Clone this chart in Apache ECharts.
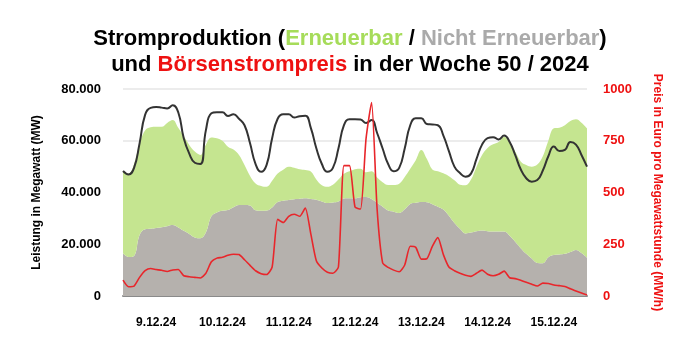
<!DOCTYPE html>
<html>
<head>
<meta charset="utf-8">
<script src="https://cdn.jsdelivr.net/npm/echarts@6/dist/echarts.min.js"></script>
<style>html,body{margin:0;padding:0;background:#fff}#c{width:700px;height:360px}</style>
</head>
<body>
<div id="c"></div>
<script>
// hours since 9.12.2024 00:00, 2-hour steps
const hours = [0,2,4,6,8,10,12,14,16,18,20,22,24,26,28,30,32,34,36,38,40,42,44,46,48,50,52,54,56,58,60,62,64,66,68,70,72,74,76,78,80,82,84,86,88,90,92,94,96,98,100,102,104,106,108,110,112,114,116,118,120,122,124,126,128,130,132,134,136,138,140,142,144,146,148,150,152,154,156,158,160,162,164,166,168];
const dayLabels = ["9.12.24","10.12.24","11.12.24","12.12.24","13.12.24","14.12.24","15.12.24"];
// MW
const nichtErneuerbar = [16500,15100,15500,23600,25800,26000,26300,26600,27000,27400,26500,25200,24000,22600,22300,24500,30800,32300,32900,33200,34300,35200,35200,35000,33100,32900,33000,34200,36300,36800,37100,37400,37600,37800,37500,37200,36500,35900,36100,36500,37700,37800,37800,38200,38300,37500,36000,34500,33000,32600,32100,33500,35600,36000,36300,36200,35500,34500,33400,31000,28200,26000,24200,24500,25000,25300,25000,24900,24900,24900,23300,21000,18500,16300,14500,12800,12700,15000,15800,16000,16300,17000,17800,16600,14800];
const erneuerbar = [31500,32200,35500,35400,38200,39200,39100,38800,39900,40600,38500,36500,34400,33200,32200,34000,30500,28700,27100,24500,22300,19300,15400,11400,10400,9600,9200,10300,11000,12000,12900,12200,11400,10900,10600,7800,6300,6300,6900,8500,9500,10400,11200,11000,9500,10700,9800,9500,9900,10300,11300,12500,13600,16500,20100,16800,13400,13700,14000,15300,16500,17000,18600,20500,25000,29200,32200,33700,34600,36600,35900,34800,33500,34300,35500,38000,41300,45000,49000,49000,49700,50600,50500,50400,50000];
const verbrauch = [48300,47000,49500,59000,70000,72700,73000,72800,72500,73700,71000,61000,55000,51500,51000,64000,70600,71000,71000,69600,70200,68500,66000,59000,51000,48000,50700,61000,68500,70200,70200,69000,69500,69700,65000,57100,51000,48000,49500,57000,66000,68300,68300,68200,66900,68000,63000,57000,51000,48200,49500,57000,66000,68700,68700,66500,66300,66000,62000,56000,50000,47500,46100,47300,53000,58500,61000,61400,60500,62000,59500,54500,49000,45500,44200,44800,48500,54000,57800,56000,56500,59500,58500,54500,50000];
// Euro/MWh
const preis = [77,45,48,90,122,133,128,124,118,126,128,98,93,90,87,110,165,183,187,197,202,200,175,148,122,108,104,140,370,355,385,395,385,425,300,170,135,115,110,140,630,630,430,420,760,935,420,160,138,125,117,150,240,235,178,180,240,282,200,140,122,110,100,95,110,125,105,98,105,120,88,84,76,66,57,48,62,60,53,50,46,35,24,14,5];
const leftTicks = [0,20000,40000,60000,80000];
const rightTicks = [0,250,500,750,1000];

const categories = hours.map(h => String(h));
const fmtDE = v => v === 0 ? '0' : String(v).replace(/\B(?=(\d{3})+(?!\d))/g, '.');

const chart = echarts.init(document.getElementById('c'), null, {renderer: 'canvas'});
const F = 'Liberation Sans, Arial, sans-serif';
const TS = 22, LH = 26;
chart.setOption({
  animation: false,
  backgroundColor: '#ffffff',
  title: {
    left: 'center', top: 21,
    text: '{a|Stromproduktion (}{g|Erneuerbar}{a| / }{n|Nicht Erneuerbar}{a|)}\n{a|und }{r|Börsenstrompreis}{a| in der Woche 50 / 2024}',
    textStyle: {
      fontFamily: F, fontSize: TS, fontWeight: 'bold', lineHeight: LH,
      rich: {
        a: {color: '#000', fontFamily: F, fontSize: TS, fontWeight: 'bold', lineHeight: LH},
        g: {color: '#a6dc5a', fontFamily: F, fontSize: TS, fontWeight: 'bold', lineHeight: LH},
        n: {color: '#aaaaaa', fontFamily: F, fontSize: TS, fontWeight: 'bold', lineHeight: LH},
        r: {color: '#ee1111', fontFamily: F, fontSize: TS, fontWeight: 'bold', lineHeight: LH}
      }
    }
  },
  grid: {left: 123, right: 113, top: 89, bottom: 64},
  xAxis: {
    type: 'category', data: categories, boundaryGap: false,
    axisLine: {show: true, lineStyle: {color: '#8a8a8a', width: 2}},
    axisTick: {show: false},
    splitLine: {show: false},
    axisLabel: {
      interval: (i) => (i % 12) === 6,
      formatter: (v, i) => dayLabels[Math.floor(i / 12)] || '',
      color: '#000', fontFamily: F, fontWeight: 'bold', fontSize: 12, margin: 21
    }
  },
  yAxis: [
    {
      type: 'value', min: 0, max: 80000, interval: 20000,
      name: 'Leistung in Megawatt (MW)', nameLocation: 'middle', nameGap: 80, nameRotate: 90,
      nameTextStyle: {color: '#000', fontFamily: 'Liberation Sans Narrow, ' + F, fontWeight: 'bold', fontSize: 12},
      axisLine: {show: false}, axisTick: {show: false},
      axisLabel: {formatter: v => leftTicks.includes(v) ? fmtDE(v) : '', color: '#000', fontFamily: F, fontWeight: 'bold', fontSize: 13, margin: 22},
      splitLine: {show: true, lineStyle: {color: '#e6e6e6', width: 1.5}}
    },
    {
      type: 'value', min: 0, max: 1000, interval: 250, position: 'right',
      name: 'Preis in Euro pro Megawattstunde (MW/h)', nameLocation: 'middle', nameGap: 64, nameRotate: -90,
      nameTextStyle: {color: '#ee1111', fontFamily: 'Liberation Sans Narrow, ' + F, fontWeight: 'bold', fontSize: 12},
      axisLine: {show: false}, axisTick: {show: false},
      axisLabel: {formatter: v => rightTicks.includes(v) ? String(v) : '', color: '#ee1111', fontFamily: F, fontWeight: 'bold', fontSize: 13, margin: 16},
      splitLine: {show: false}
    }
  ],
  series: [
    {
      name: 'Nicht Erneuerbar', type: 'line', stack: 'prod', data: nichtErneuerbar, smooth: 0.4,
      symbol: 'none', lineStyle: {width: 0}, areaStyle: {color: '#b5b1ad', opacity: 1}, z: 1
    },
    {
      name: 'Erneuerbar', type: 'line', stack: 'prod', data: erneuerbar, smooth: 0.4,
      symbol: 'none', lineStyle: {width: 0}, areaStyle: {color: '#c5e590', opacity: 1}, z: 1
    },
    {
      name: 'Verbrauch', type: 'line', data: verbrauch, smooth: 0.5,
      symbol: 'none', lineStyle: {color: '#333333', width: 2}, z: 3
    },
    {
      name: 'Preis', type: 'line', yAxisIndex: 1, data: preis, smooth: 0.2,
      symbol: 'none', lineStyle: {color: '#e8262b', width: 1.6}, z: 4
    }
  ]
});
</script>
</body>
</html>
